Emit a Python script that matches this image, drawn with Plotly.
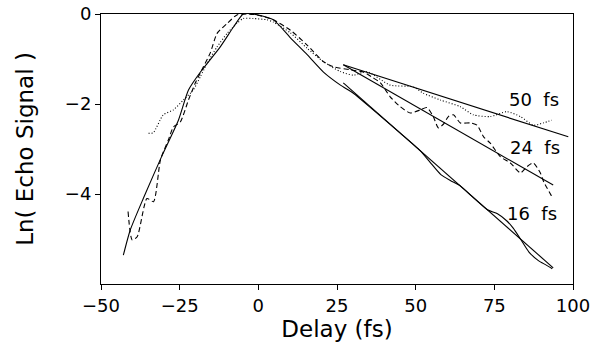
import plotly.graph_objects as go

# ---- data ----
# 16 fs trace (solid)
solid_x = [-42.9, -40.7, -36.5, -30.5, -25.4, -22.2, -18.4, -12.1, -7.9, -4.8, -1.6, 4.8, 10.2, 15.6,
           20.7, 26.1, 30.2, 36.5, 45.0, 51.5, 55.0, 58.0, 61.0, 64.2, 68.0, 72.8, 76.0, 79.0, 81.0,
           83.3, 86.0, 89.0, 91.5, 93.4]
solid_y = [-5.36, -4.80, -4.09, -3.13, -2.36, -1.69, -1.29, -0.73, -0.29, 0.0, 0.0, -0.13, -0.53, -0.91,
           -1.29, -1.58, -1.76, -2.13, -2.64, -3.04, -3.33, -3.57, -3.70, -3.82, -4.06, -4.35, -4.44,
           -4.60, -4.76, -5.00, -5.29, -5.48, -5.58, -5.66]

# 24 fs trace (dashed)
dash_x = [-41.4, -40.1, -38.5, -35.4, -33.3, -31.1, -28.6, -27.0, -24.8, -22.2, -20.0, -17.5, -15.3,
          -13.1, -9.9, -6.8, -3.6, -0.4, 4.8, 10.2, 15.5, 20.7, 23.8, 29.2, 33.4, 36.5, 38.8, 41.9,
          45.1, 48.3, 51.5, 53.6, 55.6, 57.2, 58.8, 60.4, 62.0, 64.2, 67.4, 69.5, 71.6, 73.7, 76.9,
          80.1, 83.3, 85.4, 87.4, 89.6, 90.7, 93.3]
dash_y = [-4.39, -5.02, -4.95, -4.10, -4.17, -3.24, -2.80, -2.51, -2.40, -1.91, -1.53, -1.18, -0.87,
          -0.43, -0.21, -0.02, 0.0, -0.02, -0.13, -0.36, -0.69, -1.06, -1.17, -1.24, -1.29, -1.42, -1.53, -1.84,
          -2.06, -2.20, -2.13, -2.08, -2.28, -2.53, -2.45, -2.28, -2.24, -2.42, -2.42, -2.47, -2.73, -2.87, -3.17,
          -3.31, -3.53, -3.39, -3.31, -3.53, -3.73, -4.06]

# 50 fs trace (dotted)
dot_x = [-34.9, -33.4, -30.2, -27.0, -23.8, -20.7, -18.4, -16.3, -13.1, -9.9, -6.8, -4.8, -1.6, 2.8,
         4.8, 10.2, 15.5, 20.7, 26.1, 30.2, 34.5, 41.9, 49.3, 52.4, 57.8, 64.2, 68.3, 73.7, 79.0, 83.3,
         87.4, 90.6, 93.3]
dot_y = [-2.65, -2.64, -2.24, -2.13, -1.91, -1.69, -1.39, -1.10, -0.73, -0.43, -0.21, -0.10, -0.10, -0.13,
         -0.18, -0.42, -0.76, -1.06, -1.28, -1.36, -1.28, -1.58, -1.62, -1.76, -1.91, -2.06, -2.24, -2.28,
         -2.17, -2.28, -2.47, -2.42, -2.36]

# exponential-decay fit lines (start / end)
fit50_x = [27.0, 98.5]
fit50_y = [-1.13, -2.73]
fit24_x = [27.0, 93.7]
fit24_y = [-1.13, -3.80]
fit16_x = [27.0, 93.7]
fit16_y = [-1.53, -5.64]

labels = ["50  fs", "24  fs", "16  fs"]
label_x = [87.7, 88.0, 87.1]
label_y = [-1.91, -2.96, -4.44]

x_ticks = [-50, -25, 0, 25, 50, 75, 100]
y_ticks = [0, -2, -4]

FONT = "DejaVu Sans"

fig = go.Figure()
fig.add_trace(go.Scatter(x=solid_x, y=solid_y, mode="lines",
                         line=dict(color="black", width=1.1, shape="spline", smoothing=0.6)))
fig.add_trace(go.Scatter(x=dash_x, y=dash_y, mode="lines",
                         line=dict(color="black", width=1.1, dash="5px,3px", shape="spline", smoothing=0.6)))
fig.add_trace(go.Scatter(x=dot_x, y=dot_y, mode="lines",
                         line=dict(color="black", width=1.1, dash="1px,2px", shape="spline", smoothing=0.6)))
for fx, fy in [(fit50_x, fit50_y), (fit24_x, fit24_y), (fit16_x, fit16_y)]:
    fig.add_trace(go.Scatter(x=fx, y=fy, mode="lines", line=dict(color="black", width=1.1)))

for t, lx, ly in zip(labels, label_x, label_y):
    fig.add_annotation(x=lx, y=ly, text=t, showarrow=False,
                       font=dict(family=FONT, size=18, color="black"))

fig.update_layout(
    width=600, height=347,
    margin=dict(l=101, r=27, t=14, b=63, autoexpand=False),
    paper_bgcolor="white", plot_bgcolor="white",
    showlegend=False,
    font=dict(family=FONT, size=18, color="black"),
)
fig.update_xaxes(range=[-50, 100], tickvals=x_ticks, showgrid=False, zeroline=False,
                 showline=True, linecolor="black", linewidth=1, mirror=True,
                 ticks="outside", ticklen=5, tickcolor="black", automargin=False,
                 title=dict(text="Delay (fs)", font=dict(family=FONT, size=23), standoff=6))
fig.update_yaxes(range=[-6, 0], tickvals=y_ticks, showgrid=False, zeroline=False,
                 showline=True, linecolor="black", linewidth=1, mirror=True,
                 ticks="outside", ticklen=5, tickcolor="black", automargin=False,
                 title=dict(text="Ln( Echo Signal )", font=dict(family=FONT, size=23), standoff=24))

fig.write_html("out.html", config={"displayModeBar": False},
               post_script="document.body.style.margin='0';")
